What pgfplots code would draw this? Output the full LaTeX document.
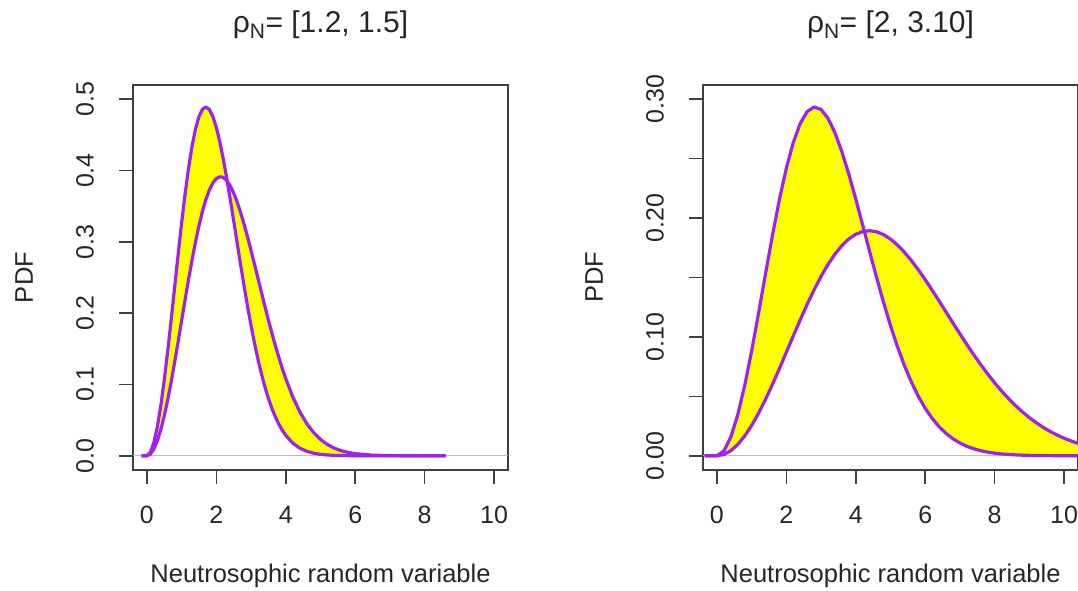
\documentclass[border=0pt]{standalone}
\usepackage{fontspec}
\setmainfont{Liberation Sans}
\usepackage{pgfplots}
\usepackage{pgfplotstable}
\pgfplotsset{compat=1.18}
\usepgfplotslibrary{fillbetween}
\definecolor{rpurple}{HTML}{A020F0}
\definecolor{rgray}{HTML}{BEBEBE}
\definecolor{boxc}{HTML}{404040}
\definecolor{ryellow}{RGB}{255,255,0}

\pgfplotstableread{
x a b
-0.15 0 0
0.0 0 0
0.1 0.004601 0.002359
0.2 0.018215 0.009373
0.3 0.040278 0.020856
0.4 0.069886 0.036504
0.5 0.105837 0.055909
0.6 0.146694 0.078564
0.7 0.190854 0.103890
0.8 0.236628 0.131244
0.9 0.282317 0.159947
1.0 0.326287 0.189302
1.1 0.367041 0.218612
1.2 0.403285 0.247203
1.3 0.433947 0.274443
1.4 0.458238 0.299751
1.5 0.475649 0.322628
1.6 0.485956 0.342642
1.7 0.489215 0.359458
1.8 0.485690 0.372837
1.9 0.475897 0.382625
2.0 0.460542 0.388764
2.1 0.440374 0.391288
2.2 0.416282 0.390305
2.3 0.389121 0.386006
2.4 0.359939 0.378609
2.5 0.329460 0.368433
2.6 0.298495 0.355802
2.7 0.267805 0.341065
2.8 0.237941 0.324606
2.9 0.209414 0.306773
3.0 0.182588 0.287953
3.1 0.157746 0.268488
3.2 0.135066 0.248717
3.3 0.114611 0.228930
3.4 0.096415 0.209381
3.5 0.080399 0.190350
3.6 0.066477 0.171991
3.7 0.054501 0.154486
3.8 0.044293 0.137916
3.9 0.035705 0.122426
4.0 0.028561 0.108049
4.2 0.017813 0.082742
4.4 0.010754 0.061967
4.6 0.006292 0.045402
4.8 0.003569 0.032551
5.0 0.001962 0.022849
5.2 0.001044 0.015706
5.4 0.000540 0.010575
5.6 0.000271 0.006976
5.8 0.000131 0.004509
6.0 0.000062 0.002853
6.5 0.000006 0.000835
7.0 0.000000 0.000216
7.5 0 0.000050
8.0 0 0.000010
8.6 0 0
}\tabL

\pgfplotstableread{
x a b
-0.35 0 0
0.0 0 0
0.2 0.003970 0.001069
0.4 0.015642 0.004250
0.6 0.034325 0.009463
0.8 0.058923 0.016580
1.0 0.088016 0.025425
1.2 0.119961 0.035783
1.4 0.153005 0.047405
1.6 0.185403 0.060013
1.8 0.215529 0.073314
2.0 0.241971 0.087002
2.2 0.263601 0.100777
2.4 0.279628 0.114325
2.6 0.289613 0.127365
2.8 0.293466 0.139643
3.0 0.291414 0.150916
3.2 0.283957 0.160980
3.4 0.271801 0.169668
3.6 0.255799 0.176857
3.8 0.236873 0.182448
4.0 0.215964 0.186397
4.2 0.193968 0.188694
4.4 0.171698 0.189365
4.6 0.149849 0.188462
4.8 0.128993 0.186091
5.0 0.109552 0.182347
5.2 0.091820 0.177364
5.4 0.075968 0.171294
5.6 0.062057 0.164297
5.8 0.050062 0.156525
6.0 0.039887 0.148151
6.2 0.031399 0.139331
6.4 0.024413 0.130221
6.6 0.018760 0.120966
6.8 0.014246 0.111695
7.0 0.010693 0.102530
7.2 0.007931 0.093550
7.4 0.005817 0.084882
7.6 0.004217 0.076620
7.8 0.003022 0.068752
8.0 0.002138 0.061359
8.2 0.001500 0.054451
8.4 0.001036 0.048089
8.6 0.000713 0.042224
8.8 0.000483 0.036897
9.0 0.000324 0.032053
9.2 0.000214 0.027726
9.4 0.000141 0.023854
9.6 0.000091 0.020418
9.8 0.000059 0.017385
10.0 0.000037 0.014730
10.2 0.000023 0.012419
10.4 0.000014 0.010420
10.6 0.000009 0.008703
}\tabR

\pgfplotsset{rstyle/.style={
  scale only axis, width=375pt, height=385pt, anchor=south west,
  xmin=-0.4, xmax=10.4,
  xtick={0,2,4,6,8,10}, xticklabels={0,2,4,6,8,10},
  tick pos=left, tick align=outside, major tick length=14pt,
  axis line style={boxc, line width=1.6pt},
  tick style={boxc, line width=1.6pt},
  tick label style={font=\fontsize{25}{29}\selectfont, text=black!85},
  xticklabel style={anchor=center, yshift=-31pt},
  yticklabel style={anchor=center, rotate=90, yshift=34pt},
  label style={font=\fontsize{25.5}{29}\selectfont, text=black!85},
  xlabel={Neutrosophic random variable},
  ylabel={PDF},
  xlabel style={at={(axis description cs:0.5,-0.2753)}, anchor=center},
  ylabel style={at={(axis description cs:-0.2907,0.5)}, anchor=center, rotate=0},
  title style={at={(axis description cs:0.5,1.140)}, anchor=center, font=\fontsize{30}{34}\selectfont, text=black!85},
  clip=true,
}}

\begin{document}
\begin{tikzpicture}
\begin{axis}[rstyle, at={(133pt,120pt)},
  ymin=-0.02, ymax=0.52,
  ytick={0,0.1,0.2,0.3,0.4,0.5},
  yticklabels={0.0,0.1,0.2,0.3,0.4,0.5},
  title={ρ\textsubscript{N}= [1.2, 1.5]}]
\addplot[rgray, line width=1.3pt] coordinates {(-0.4,0) (10.4,0)};
\addplot[draw=none, name path=LA] table[x=x, y=a] {\tabL};
\addplot[draw=none, name path=LB] table[x=x, y=b] {\tabL};
\addplot[fill=ryellow, draw=none] fill between[of=LA and LB];
\addplot[rpurple, line width=3.2pt, line join=round] table[x=x, y=b] {\tabL};
\addplot[rpurple, line width=3.2pt, line join=round] table[x=x, y=a] {\tabL};
\end{axis}

\begin{axis}[rstyle, at={(703pt,120pt)},
  ymin=-0.012, ymax=0.312,
  ytick={0,0.05,0.1,0.15,0.2,0.25,0.3},
  yticklabels={0.00,,0.10,,0.20,,0.30},
  title={ρ\textsubscript{N}= [2, 3.10]}]
\addplot[rgray, line width=1.3pt] coordinates {(-0.4,0) (10.4,0)};
\addplot[draw=none, name path=RA] table[x=x, y=a] {\tabR};
\addplot[draw=none, name path=RB] table[x=x, y=b] {\tabR};
\addplot[fill=ryellow, draw=none] fill between[of=RA and RB];
\addplot[rpurple, line width=3.2pt, line join=round] table[x=x, y=b] {\tabR};
\addplot[rpurple, line width=3.2pt, line join=round] table[x=x, y=a] {\tabR};
\end{axis}
\pgfresetboundingbox
\path (0,0) rectangle (1078pt,590pt);
\end{tikzpicture}
\end{document}
